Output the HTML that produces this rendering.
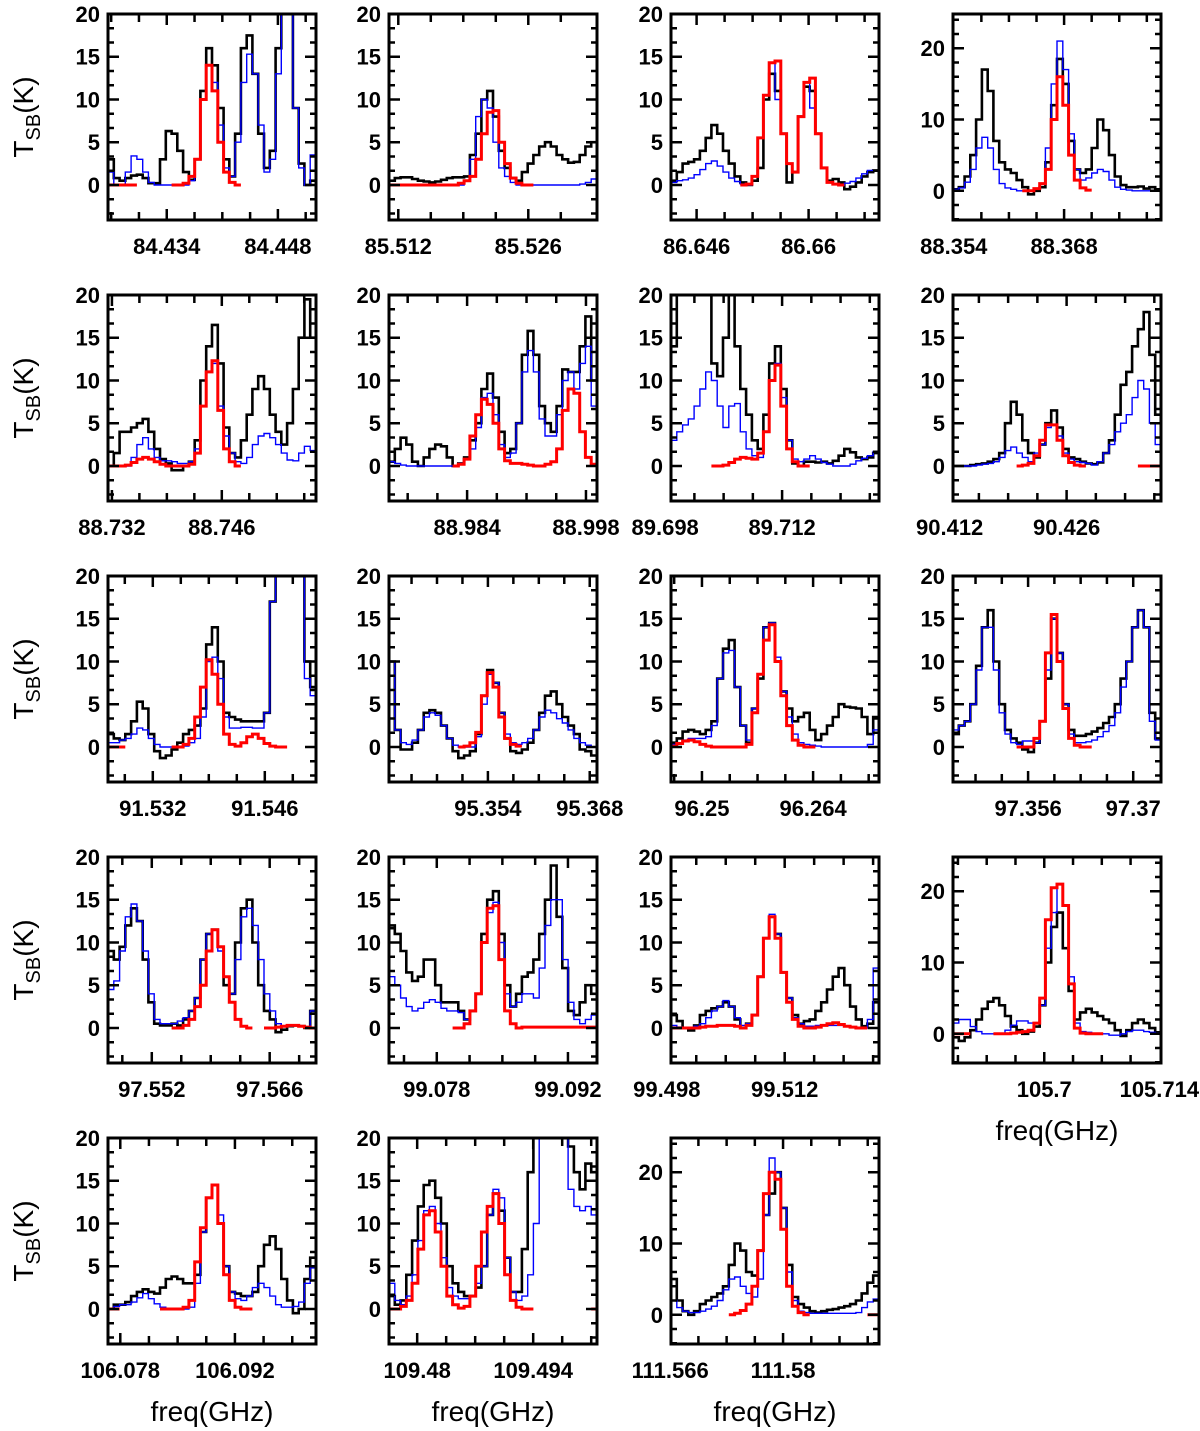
<!DOCTYPE html>
<html><head><meta charset="utf-8"><title>Spectra</title>
<style>
html,body{margin:0;padding:0;background:#fff;}
svg{display:block;font-family:"Liberation Sans",sans-serif;}
.tl{font-size:22px;font-weight:bold;fill:#000;}
.al{font-size:28px;fill:#000;}
</style></head>
<body>
<svg id="chart" width="1200" height="1431" viewBox="0 0 1200 1431" xmlns="http://www.w3.org/2000/svg">
<rect width="1200" height="1431" fill="#fff"/>
</svg>
<script>
// ---------- data (channel values, K) ----------
const p1_black=[3,0.8,0.5,0.8,1.1,1.2,0.8,0.2,0.2,3,6.3,6,4,1.5,0.6,3,11,16,14,9,3,1,6,16,17.5,13,6,2,4,16,25,25,9,2.5,0,0.5];
const p1_blue=[1.5,0,0,1.5,3.4,3,1.5,0.3,0,0,0,0,0,0,0.5,3,10,14,12,7,2,1,5,12,15.3,13,7,1.5,3,13,25,25,9,2,0,3.5];
const p1_red=[0,0,0,0,0,null,null,null,null,null,null,0,0,0.2,1,3,10,14,11,5,1.5,0.3,0,null,null,null,null,null,null,null,null,null,null,null,null,null];
const p2_black=[0.5,0.8,0.9,0.9,0.7,0.5,0.4,0.3,0.4,0.6,0.8,0.9,0.9,1,3.5,6,10,11,8,4,2,0.8,0.5,1.5,2.5,3.5,4.5,5,4.5,3.5,3,2.6,2.7,3.5,4.5,5];
const p2_blue=[0,0,0,0,0,0,0,0,0,0,0,0,0,0.5,3,8,10,9,5,2,1,0.3,0,0,0,0,0,0,0,0,0,0,0,0.1,0.3,0.7];
const p2_red=[0,0,0,0,0,0,0,0,0,0,0,0,0.2,0.5,1,3,6,8.5,8.7,5,2.5,0.8,0.2,0,0,null,null,null,null,null,null,null,null,null,null,null];
const p3_black=[0.5,1.5,2.5,2.7,3,4,5.5,7,6,4,2.5,1,0.3,0,0.5,2,10,13,11,6,0.3,1.5,8,11.5,11,6,2,0.5,0.7,0.3,-0.5,-0.2,0.3,1,1.5,1.7];
const p3_blue=[0.3,0.5,0.6,0.8,1.2,1.8,2.5,2.8,2.2,1.5,0.8,0.4,0.1,0,1,5.5,10.5,14.3,10,6,2.5,1.5,8,12,9,6,2,0.3,0.1,0,0.2,0.4,0.8,1.3,1.7,1.7];
const p3_red=[null,null,null,null,null,null,null,null,null,null,null,null,0,0.1,1,5.5,10.5,14.3,14.5,6,2.5,1.5,8,12,12.5,6,2,0.3,0.1,0,null,null,null,null,null,null];
const p4_black=[0.2,0.5,2,5,10,17,14,7,4,3,2.5,1.5,0.5,-0.5,0,0.5,4,12,18.5,15,7,3,2.5,3,6,10,8.5,5,2,0.8,0.5,0.5,0.6,0.3,0.5,0.2];
const p4_blue=[0.2,0.4,1.2,3,6,7.5,6,3,1,0.4,0.2,0,0,0,0.2,1,6,15,21,17,8,3,1.5,1.8,2.5,3,2.7,1.5,0.5,0.2,0.1,0,0,0,0,0];
const p4_red=[null,null,null,null,null,null,null,null,null,null,null,null,0,0,0.3,1,3,10,16,12,5,1.5,0.4,0.1,null,null,null,null,null,null,null,null,null,null,null,null];
const p5_black=[0,1.5,4,4,4.5,5,5.5,4,2,0.8,0.3,-0.5,-0.5,0,0.5,3,10,14,16.5,12,4.5,1.5,1,3,6,9,10.5,9,6,4,2.5,5,9,15,19.5,15];
const p5_blue=[0,0,0,0,1,2.5,3.3,2,1,0.6,0.6,0.5,0.3,0.3,0.5,2,7,11,12,7,3.5,1.5,0.5,0.3,1,2.5,3.5,3.8,3.3,2.5,1.5,0.7,0.6,1.5,2.3,1.8];
const p5_red=[0,0,0,0.1,0.4,0.8,1,0.8,0.5,0.2,0,0,0,0,0.2,1.5,7,11,12.3,6.5,2,0.5,0,null,null,null,null,null,null,null,null,null,null,null,null,null];
const p6_black=[0.5,2,3.3,2.5,0.5,0,1,2,2.5,2.3,1,0,0.3,1,3,5,9,10.8,8,4,1.5,2,5,13,15.8,13,7,5,4,7,11.3,11,11,14,17.5,10];
const p6_blue=[0.5,0.3,0.1,0,0,0,0,0,0,0,0,0,0.3,0.8,2,4.5,8,8.5,6,2.5,1,1.5,5,11,13.5,11,5.5,3.5,3.5,6,10,11,9,12,14,7];
const p6_red=[null,null,null,null,null,null,null,null,null,null,null,0,0.2,0.8,3.5,6,7.8,7.2,5,2,0.6,0.3,0.3,0.2,0.1,0,0,0.2,0.5,2,6.5,9,8.5,4,1,0.2];
const p7_black=[14,25,25,25,25,25,25,12,10.5,15,25,14,9,6,3,2,6,12,14,9,3,0.3,0,0.5,0.5,0.4,0.5,0.3,0.6,1.2,2,1.6,1,0.8,1,1.5];
const p7_blue=[3,4,4.8,5.5,7,9,11,10,7,4.5,7,7.3,4,2,1.2,1,4,10,12,8,3,0.8,0.5,0.8,1.2,0.8,0.4,0.2,0,0,0,0.2,0.6,0.9,1.2,1.7];
const p7_red=[null,null,null,null,null,null,null,0,0,0.1,0.4,0.8,1,0.9,0.8,1.5,4,10,11.8,7,2,0.5,0,0,null,null,null,null,null,null,null,null,null,null,null,null];
const p8_black=[0,0,0,0.1,0.2,0.3,0.5,0.8,1.5,5,7.5,6,3,1.5,1,2.5,5,6.5,4.5,2,1,0.8,0.5,0.3,0.2,0.4,1.5,3,6,9.5,11,14,16,18,13,6];
const p8_blue=[0,0,0,0,0.1,0.2,0.3,0.5,1,1.8,2.2,1.5,1,0.5,1.5,2.5,4.5,4.8,3.5,1.5,0.8,0.5,0.4,0.3,0.1,0.5,1.5,2.5,4,5,6,8,10,9,5,2.5];
const p8_red=[null,null,null,null,null,null,null,null,null,null,null,0,0.1,0.3,1.2,3,4.8,4.8,3,1.2,0.4,0.1,0,null,null,null,null,null,null,null,null,null,0,0,0,0];
const p9_black=[1.5,1,0.8,1.5,3,5.3,4.5,1.5,-0.5,-1.3,-1,-0.3,0.5,1.5,2,2.5,4.5,12,14,10,4,3.5,3.2,3,3,3,3,4,17,25,25,25,25,25,10,7];
const p9_blue=[0.5,0.5,0.8,1,1.5,2.2,2,1,0.3,0,0,0,0,0.1,0.5,1,3.5,10,10.5,8,3.5,2.2,2.2,2.3,2.3,2.2,2.2,4,17,25,25,25,25,25,8,6];
const p9_red=[0,0,0,null,null,null,null,null,null,null,null,0,0,0.3,1,3.5,7,10.2,8.5,5,1.5,0.3,0.1,0.5,1.2,1.5,1,0.4,0.1,0,0,null,null,null,null,null];
const p10_black=[10,2,-0.3,-0.3,0.5,2,4,4.3,4,2.5,1,-0.5,-1.3,-1,-0.5,1.5,6,9,7.5,4,1,-0.5,-0.7,-0.3,0.5,2,4,6,6.5,5,3.5,2.5,1.5,-0.3,-0.5,-1];
const p10_blue=[10,2,0.5,0.3,0.8,2,3.5,4,3.7,2.5,1,0.2,0,0,0,1.2,5,8.5,7.5,4,1.5,0.5,0.3,0.5,1,2,3.5,4.3,4,3.3,2.8,2,1,0.5,0.2,0];
const p10_red=[null,null,null,null,null,null,null,null,null,null,null,null,0,0.1,0.5,1.7,6,8.7,7,3.5,1,0.3,0.1,null,null,null,null,null,null,null,null,null,null,null,null,null];
const p11_black=[0.5,1,1.8,2,1.8,1.5,2,3,8,11.5,12.5,7,2.5,0.5,4.5,8,14,14.5,10,6.5,4.5,3,3.5,4,2,0.8,1.5,2.5,3.5,5,4.7,4.6,4.5,3.5,1.5,3.5];
const p11_blue=[0.3,0.5,0.8,1,1,1,1.2,2.5,8,11,11.3,7,2.5,0.8,4.5,8.5,14,14.5,10.5,6.5,3.5,1.5,0.5,0.3,0.2,0.1,0,0,0,0,0,0,0,0,0.3,2];
const p11_red=[0.1,0.4,0.7,0.8,0.6,0.3,0.1,0,0,0,0,0,0,0.3,4,8.5,12.5,14.3,10,6,2.5,0.8,0.2,0,0,null,null,null,null,null,null,null,null,null,null,null];
const p12_black=[1.5,2.5,3,5,9.5,14,16,10,5,2,1,0.5,-0.3,-0.6,0.5,3,8,15,11,5,2,1.3,1.3,1.5,1.8,2.2,2.8,3.5,5,8,10,14,16,14,4,1];
const p12_blue=[2,2.5,3,5,9,14,14,9,4,1.5,0.5,0.3,0.7,0.7,0.5,3,9,15,11,5,1.5,0.5,0.5,0.6,0.8,1.2,1.8,2.5,4,7,10,14,16,14,3,0.8];
const p12_red=[null,null,null,null,null,null,null,null,null,null,null,0,0,0,1,3,11,15.5,10,4.5,1,0.2,0,0,null,null,null,null,null,null,null,null,null,null,null,null];
const p13_black=[9,8,9.5,12,14,12.5,8,3,0.5,0.3,0.3,0.5,0.3,1,2,3.5,8,11,11.5,9.5,5,4,10,14,15,10,5,2,1,-0.5,-0.2,0.2,0.3,0.2,0,2];
const p13_blue=[4.5,5.5,9,13,14.5,12.5,9,4,1,0.5,0.5,0.5,0.8,1.2,2,3.5,8,11,11.5,9,6,4,8,13,14,12,8,4,2,0.5,0.2,0.2,0.3,0.2,0.1,2];
const p13_red=[null,null,null,null,null,null,null,null,null,null,null,0,0,0.3,1,2.5,5,9,11.5,9.5,6,3,1,0.2,0,null,null,0,0,0.1,0.2,0.3,0.3,0.2,0.1,0];
const p14_black=[12,11,9,6.5,5.5,6,8,8,5,3,3,3,2,1,2,4,11,15,16,11,5,2.5,4,6,6.5,8,11,15,19,13,7,2,1.5,3,5,4];
const p14_blue=[6,5,3.5,2.5,2,2.3,3,3.3,3,2.3,2,2,1.8,1,2,4,10,13.5,14.7,10,4,2.5,3,4,4,3.5,7,12,15,15,8,3,1,0.5,1,1.5];
const p14_red=[null,null,null,null,null,null,null,null,null,null,null,0,0,0.5,2,4,10,14,14.3,8,2,0.5,0,0.1,0.1,0.1,0.1,0.1,0.1,0.1,0.1,0.1,0.1,0.1,0.1,0.1];
const p15_black=[1.5,0.8,0,-0.3,0.3,1.5,2,2.3,2.5,3,2.5,1,0,0.5,1.5,6,10.5,13,11,6.5,3.5,1.5,0.5,0.8,1,2,3,4.5,6,7,5,2.5,1,0.2,0.5,3];
const p15_blue=[0.3,0.1,0,0,0.2,0.5,1.2,2,2.5,3.2,2.5,1.2,0.3,0.5,1.5,6,10.5,13.3,11,6.5,3.5,1.2,0.5,0.2,0.2,0.3,0.3,0.3,0.3,0.3,0.2,0.1,0,0,1,7];
const p15_red=[0,0,0,0,0,0.1,0.2,0.2,0.3,0.3,0.3,0.2,0,0.3,1.5,6,10.5,13,10.5,6.5,3,1,0.2,0,0,0.1,0.3,0.5,0.6,0.4,0.2,0.1,0,0,null,null];
const p16_black=[-0.5,-1,-0.5,0.5,2,3.5,4.5,5,4,2.5,1,0.5,0,0.3,1,4,10,15,17,12,6,2,3,3.5,3,2.5,2,1.5,0.5,-0.3,0.5,1.5,2,1.5,0.8,0.2];
const p16_blue=[1.5,2,2,1,0.3,0,0,0,0,0.5,1.2,1.8,1.8,1.5,1.5,4,12,17,21,18,8,1.5,0.3,0.2,0,0,0,-0.2,-0.2,0,0.3,0.5,0.5,0.3,0.2,0.1];
const p16_red=[0,0,0,null,null,null,null,0,0,0,0.1,0.2,0.3,0.5,1.5,5,16,20.5,21,18,7,0.8,0.1,0,0,0,null,null,null,null,null,null,null,null,null,null];
const p17_black=[0,0.5,0.5,0.8,1.5,2,2.3,2,1.8,2.5,3.5,3.8,3.5,3,3,4,9,13,14.5,10,5,2,1.8,1.5,1.5,2,5,7.5,8.5,7,3.5,1,-0.5,0,3.5,6];
const p17_blue=[0,0.3,0.5,0.5,0.8,1.3,1.8,1.2,0.6,0.2,0,0,0,0,0.2,3,9,13,14.5,11,5,2,1.2,1,1.5,2.5,3,2.5,1.5,0.5,0.2,0.2,0.3,0.8,3,4.8];
const p17_red=[0,0,null,null,null,null,null,null,null,0,0,0,0,0.2,1,5.5,9.5,13,14.5,10,4,1,0.2,0,0,null,null,null,null,null,null,null,null,null,null,null];
const p18_black=[1.5,0.5,1,4,8,12,14.5,15,13,10,5,3,2,1.5,1.5,2.5,5,11,13.5,11.5,6,2,2,7,16,25,25,25,25,25,25,19,16,14,17,16];
const p18_blue=[3,1,0.5,1.5,4,8,11.5,12,10,6,2.5,1.5,1.2,1.2,1.5,3,5,11,14,13,6,2,1,1.5,4,10,25,25,25,25,20,14,12,11.5,12,11];
const p18_red=[0,0,0.3,1,3,7,11,11.5,9,5,1.5,0.5,0.1,0.3,1.5,5,9,12,13.5,10,4,1,0.2,0,0,null,null,null,null,null,null,null,null,null,null,0];
const p19_black=[5,2,0.5,0,0.5,1.5,2,2.5,3,4,7,10,9,6,5.5,9,14,17,20,15,7,2.5,1.5,1,0.5,0.3,0.5,0.7,0.8,1,1.2,1.5,2,3,4.5,5.5];
const p19_blue=[2,1,0.5,0.3,0.3,0.5,0.8,1.2,2,3.5,5,5.3,4,3,2.5,5,14,22,20,15,6,2,0.5,0.3,0.2,0.2,0.2,0.2,0.2,0.2,0.2,0.2,0.3,1,1.8,2.2];
const p19_red=[null,null,null,null,null,null,null,null,null,null,0,0.2,0.6,1.5,4,9,17,20,19,12,4,1.2,0.3,0,null,null,null,null,null,null,null,null,null,null,0,0];

// frequency ranges (GHz) and tick label values per panel
const freqMin=[84.4266,85.5110,86.6428,88.3539,88.7315,88.9748,89.6987,90.4124,91.5264,95.3404,96.2461,97.3460,97.5468,99.0729,99.4985,105.6889,106.0765,109.4766,111.5661];
const freqMax=[84.4528,85.5334,86.6688,88.3803,88.7580,88.9993,89.7236,90.4373,91.5524,95.3690,96.2723,97.3737,97.5715,99.0951,99.5232,105.7142,106.1019,109.5017,111.5919];
const tickLabels=[["84.434","84.448"],["85.512","85.526"],["86.646","86.66"],["88.354","88.368"],["88.732","88.746"],["88.984","88.998"],["89.698","89.712"],["90.412","90.426"],["91.532","91.546"],["95.354","95.368"],["96.25","96.264"],["97.356","97.37"],["97.552","97.566"],["99.078","99.092"],["99.498","99.512"],["105.7","105.714"],["106.078","106.092"],["109.48","109.494"],["111.566","111.58"]];
const yMaxes=[20,20,20,24.8,20,20,20,20,20,20,20,20,20,20,20,24.8,20,20,24.8];

const blackSeries=[p1_black,p2_black,p3_black,p4_black,p5_black,p6_black,p7_black,p8_black,p9_black,p10_black,p11_black,p12_black,p13_black,p14_black,p15_black,p16_black,p17_black,p18_black,p19_black];
const blueSeries=[p1_blue,p2_blue,p3_blue,p4_blue,p5_blue,p6_blue,p7_blue,p8_blue,p9_blue,p10_blue,p11_blue,p12_blue,p13_blue,p14_blue,p15_blue,p16_blue,p17_blue,p18_blue,p19_blue];
const redSeries=[p1_red,p2_red,p3_red,p4_red,p5_red,p6_red,p7_red,p8_red,p9_red,p10_red,p11_red,p12_red,p13_red,p14_red,p15_red,p16_red,p17_red,p18_red,p19_red];

// ---------- layout ----------
const colLeft=[108,389,671,953];
const rowTop=[14,295,576,857,1138];
const W=208,H=206,YMIN=-4.1;
const NS="http://www.w3.org/2000/svg";
const svg=document.getElementById('chart');
function el(tag,attrs,parent){const e=document.createElementNS(NS,tag);for(const k in attrs)e.setAttribute(k,attrs[k]);(parent||svg).appendChild(e);return e;}

const defs=el('defs',{});
for(let p=0;p<19;p++){
  const col=p%4,row=Math.floor(p/4);
  const L=colLeft[col],T=rowTop[row];
  const fmin=freqMin[p],fmax=freqMax[p],ymax=yMaxes[p];
  const xs=f=>L+(f-fmin)/(fmax-fmin)*W;
  const ys=v=>T+(ymax-v)/(ymax-YMIN)*H;
  const g=el('g',{});
  
  
  const cp=el('clipPath',{id:'cp'+p},defs);
  el('rect',{x:L,y:T,width:W,height:H},cp);

  const drawSeries=(vals,color,w,name)=>{
    const N=vals.length;const df=(fmax-fmin)/N;let d='';let open=false;
    for(let k=0;k<N;k++){
      const v=vals[k];
      if(v===null){open=false;continue;}
      const x0=xs(fmin+k*df),x1=xs(fmin+(k+1)*df),y=ys(v);
      if(!open){d+='M'+x0.toFixed(1)+','+y.toFixed(1);open=true;}
      else d+='V'+y.toFixed(1);
      d+='H'+x1.toFixed(1);
    }
    const path=el('path',{d:d,fill:'none',stroke:color,'stroke-width':w,'stroke-linejoin':'miter','clip-path':'url(#cp'+p+')'},g);
    
    
  };
  drawSeries(blackSeries[p],'#000',2.6,'observed-spectrum');
  drawSeries(blueSeries[p],'#0000ff',1.4,'model-spectrum');
  drawSeries(redSeries[p],'#ff0000',3,'fit-spectrum');

  const fr=el('rect',{x:L,y:T,width:W,height:H,fill:'none',stroke:'#000','stroke-width':3},g);
  
  

  const major=ymax>22?10:5, minor=ymax>22?2:5/3;
  let tk='';
  for(let v=0;v<=ymax+0.01;v+=minor){const y=ys(v);const len=(Math.abs(v/major-Math.round(v/major))<0.01)?11:6;tk+='M'+L+','+y+'h'+len+'M'+(L+W)+','+y+'h'+(-len);}
  for(let v=-minor;v>YMIN;v-=minor){const y=ys(v);tk+='M'+L+','+y+'h6M'+(L+W)+','+y+'h-6';}
  const f0=parseFloat(tickLabels[p][0]);const step=0.0035;
  for(let f=f0-step*8;f<=fmax;f+=step){if(f<fmin+0.0004||f>fmax-0.0004)continue;const x=xs(f);const m=Math.abs(((f-f0)/0.014)-Math.round((f-f0)/0.014))<0.01;const len=m?11:8;tk+='M'+x+','+(T+H)+'v'+(-len)+'M'+x+','+T+'v'+len;}
  const tp=el('path',{d:tk,stroke:'#000','stroke-width':2.5,fill:'none'},g);
  
  

  for(let v=0;v<=ymax+0.01;v+=(ymax>22?10:5)){
    const t=el('text',{x:L-8,y:ys(v)+8,'text-anchor':'end',class:'tl'},g);t.textContent=String(v);
    
    
  }
  for(const s of tickLabels[p]){
    const t=el('text',{x:xs(parseFloat(s)),y:T+H+34,'text-anchor':'middle',class:'tl'},g);t.textContent=s;
    
    
  }
}
for(let r=0;r<5;r++){
  const cy=rowTop[r]+H/2;
  const t=el('text',{x:0,y:0,transform:'translate(33,'+cy+') rotate(-90)','text-anchor':'middle',class:'al'});
  
  
  const a=el('tspan',{},t);a.textContent='T';
  const b=el('tspan',{dy:7,'font-size':20},t);b.textContent='SB';
  const c=el('tspan',{dy:-7},t);c.textContent='(K)';
}
const xt=[[colLeft[0]+W/2,1421],[colLeft[1]+W/2,1421],[colLeft[2]+W/2,1421],[colLeft[3]+W/2,1140]];
for(const [x,y] of xt){
  const t=el('text',{x:x,y:y,'text-anchor':'middle',class:'al'});t.textContent='freq(GHz)';
  
  
}
</script>
</body></html>
